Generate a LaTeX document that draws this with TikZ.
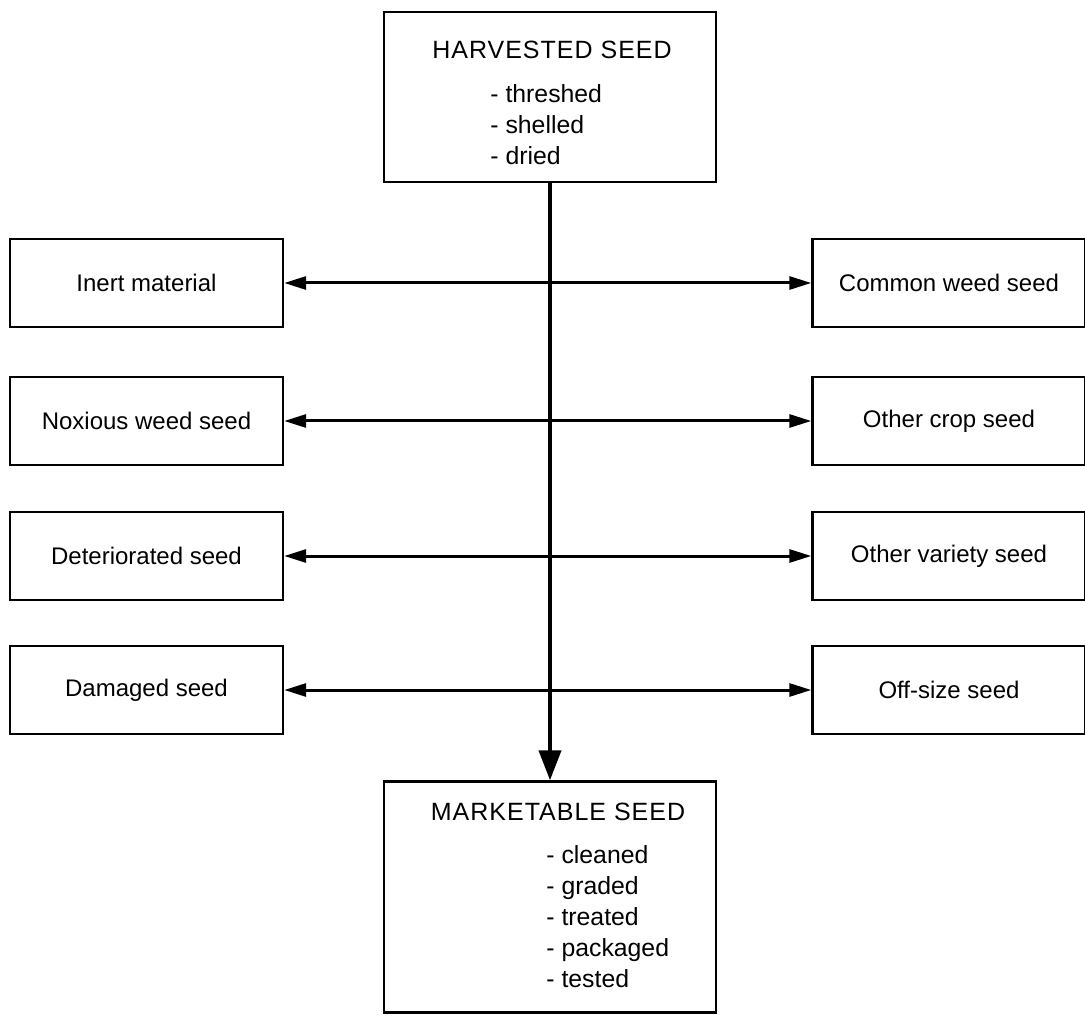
\documentclass[tikz,border=0pt]{standalone}
\usepackage{fontspec}
\setmainfont{Liberation Sans}
\usetikzlibrary{arrows.meta}
\begin{document}
\begin{tikzpicture}[x=0.5pt,y=-0.5pt,
  box/.style={draw,line width=1.2pt,inner sep=0pt},
  side/.style={box,minimum width=136.5pt,minimum height=44pt,font=\fontsize{12}{14}\selectfont},
  title/.style={inner sep=0pt,font=\fontsize{12.5}{15}\selectfont\addfontfeature{LetterSpace=4}},
  items/.style={align=left,anchor=west,inner sep=0pt,font=\fontsize{12.4}{15.5}\selectfont},
  link/.style={line width=1.5pt,{Triangle[length=11pt,width=6.5pt]}-{Triangle[length=11pt,width=6.5pt]}},
  feed/.style={line width=2pt,-{Triangle[length=15pt,width=11pt]}}]
\useasboundingbox (0,0) rectangle (1085,1020);

% source and product boxes
\node[box,minimum width=166pt,minimum height=85pt] (harvest) at (550,97) {};
\node[title] (harvestT) at (552,50) {HARVESTED SEED};
\node[items] (harvestL) at (490,125) {- threshed\\- shelled\\- dried};

\node[box,minimum width=166pt,minimum height=115.5pt] (market) at (550,897) {};
\node[title] (marketT) at (558,812) {MARKETABLE SEED};
\node[items] (marketL) at (546,917) {- cleaned\\- graded\\- treated\\- packaged\\- tested};

% separated fractions, left column
\node[side] (inert) at (146.5,283) {Inert material};
\node[side] (noxious) at (146.5,421) {Noxious weed seed};
\node[side] (deter) at (146.5,556) {Deteriorated seed};
\node[side] (damaged) at (146.5,690) {Damaged seed};

% separated fractions, right column
\node[side] (common) at (949,283) {Common weed seed};
\node[side] (crop) at (949,421) {Other crop seed};
\node[side] (variety) at (949,556) {Other variety seed};
\node[side] (offsize) at (949,690) {Off-size seed};

% connectors
\draw[link] (inert.east) -- (common.west);
\draw[link] (noxious.east) -- (crop.west);
\draw[link] (deter.east) -- (variety.west);
\draw[link] (damaged.east) -- (offsize.west);
\draw[feed] (harvest.south) -- (market.north);
\end{tikzpicture}
\end{document}
